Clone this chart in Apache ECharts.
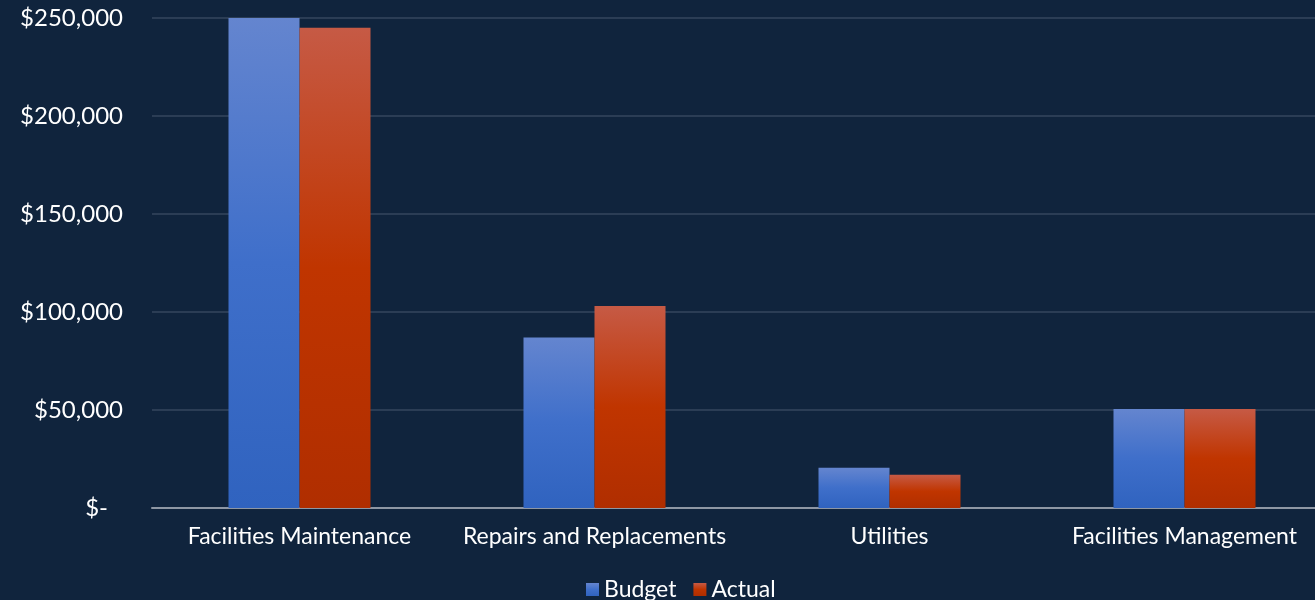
<!DOCTYPE html>
<html><head><meta charset="utf-8">
<script src="https://cdn.jsdelivr.net/npm/echarts@6/dist/echarts.min.js"></script>
<style>html,body{margin:0;padding:0;background:#10243d;overflow:hidden;}#c{width:1332px;height:600px;}</style>
</head><body><div id="c"></div>
<script>
const categories = ['Facilities Maintenance', 'Repairs and Replacements', 'Utilities', 'Facilities Management'];
const budget = [250000, 87000, 20500, 50500];
const actual = [245000, 103000, 17000, 50500];
const seriesNames = ['Budget', 'Actual'];

const chart = echarts.init(document.getElementById('c'));
const font = 'Lato';
const shadow = {shadowBlur: 8, shadowColor: 'rgba(0,0,0,0.55)', shadowOffsetX: 3, shadowOffsetY: 2};
chart.setOption({
  backgroundColor: '#10243d',
  textStyle: {fontFamily: font},
  grid: {left: 152, right: 0, top: 18, bottom: 92, containLabel: false},
  legend: {
    bottom: -6, left: 581, itemWidth: 13, itemHeight: 13, itemGap: 17,
    icon: 'rect',
    textStyle: {color: '#ffffff', fontSize: 23, fontFamily: font, padding: [0, 0, 0, 0]},
    data: seriesNames
  },
  xAxis: {
    type: 'category', data: categories,
    axisLine: {lineStyle: {color: '#8e97a4', width: 2}},
    axisTick: {show: false},
    axisLabel: {color: '#ffffff', fontSize: 23, margin: 17, fontFamily: font, interval: 0}
  },
  yAxis: {
    type: 'value', min: 0, max: 250000, interval: 50000,
    axisLine: {show: false}, axisTick: {show: false},
    splitLine: {lineStyle: {color: '#2b3d55', width: 2}},
    axisLabel: {
      color: '#ffffff', fontSize: 24, margin: 29, fontFamily: font,
      formatter: v => v === 0 ? '{z|$-}' : '$' + v.toLocaleString('en-US'),
      rich: {z: {color: '#ffffff', fontSize: 24, fontFamily: font, padding: [0, 15, 0, 0]}}
    }
  },
  series: [
    {
      name: seriesNames[0], type: 'bar', data: budget, barWidth: 71, barGap: '0%',
      itemStyle: Object.assign({
        color: new echarts.graphic.LinearGradient(0, 0, 0, 1, [
          {offset: 0, color: '#6485cf'}, {offset: 0.5, color: '#3f6fca'}, {offset: 1, color: '#3063bf'}
        ])
      }, shadow)
    },
    {
      name: seriesNames[1], type: 'bar', data: actual, barWidth: 71,
      itemStyle: Object.assign({
        color: new echarts.graphic.LinearGradient(0, 0, 0, 1, [
          {offset: 0, color: '#c65a45'}, {offset: 0.5, color: '#c03500'}, {offset: 1, color: '#b02e00'}
        ])
      }, shadow)
    }
  ]
});
</script></body></html>
